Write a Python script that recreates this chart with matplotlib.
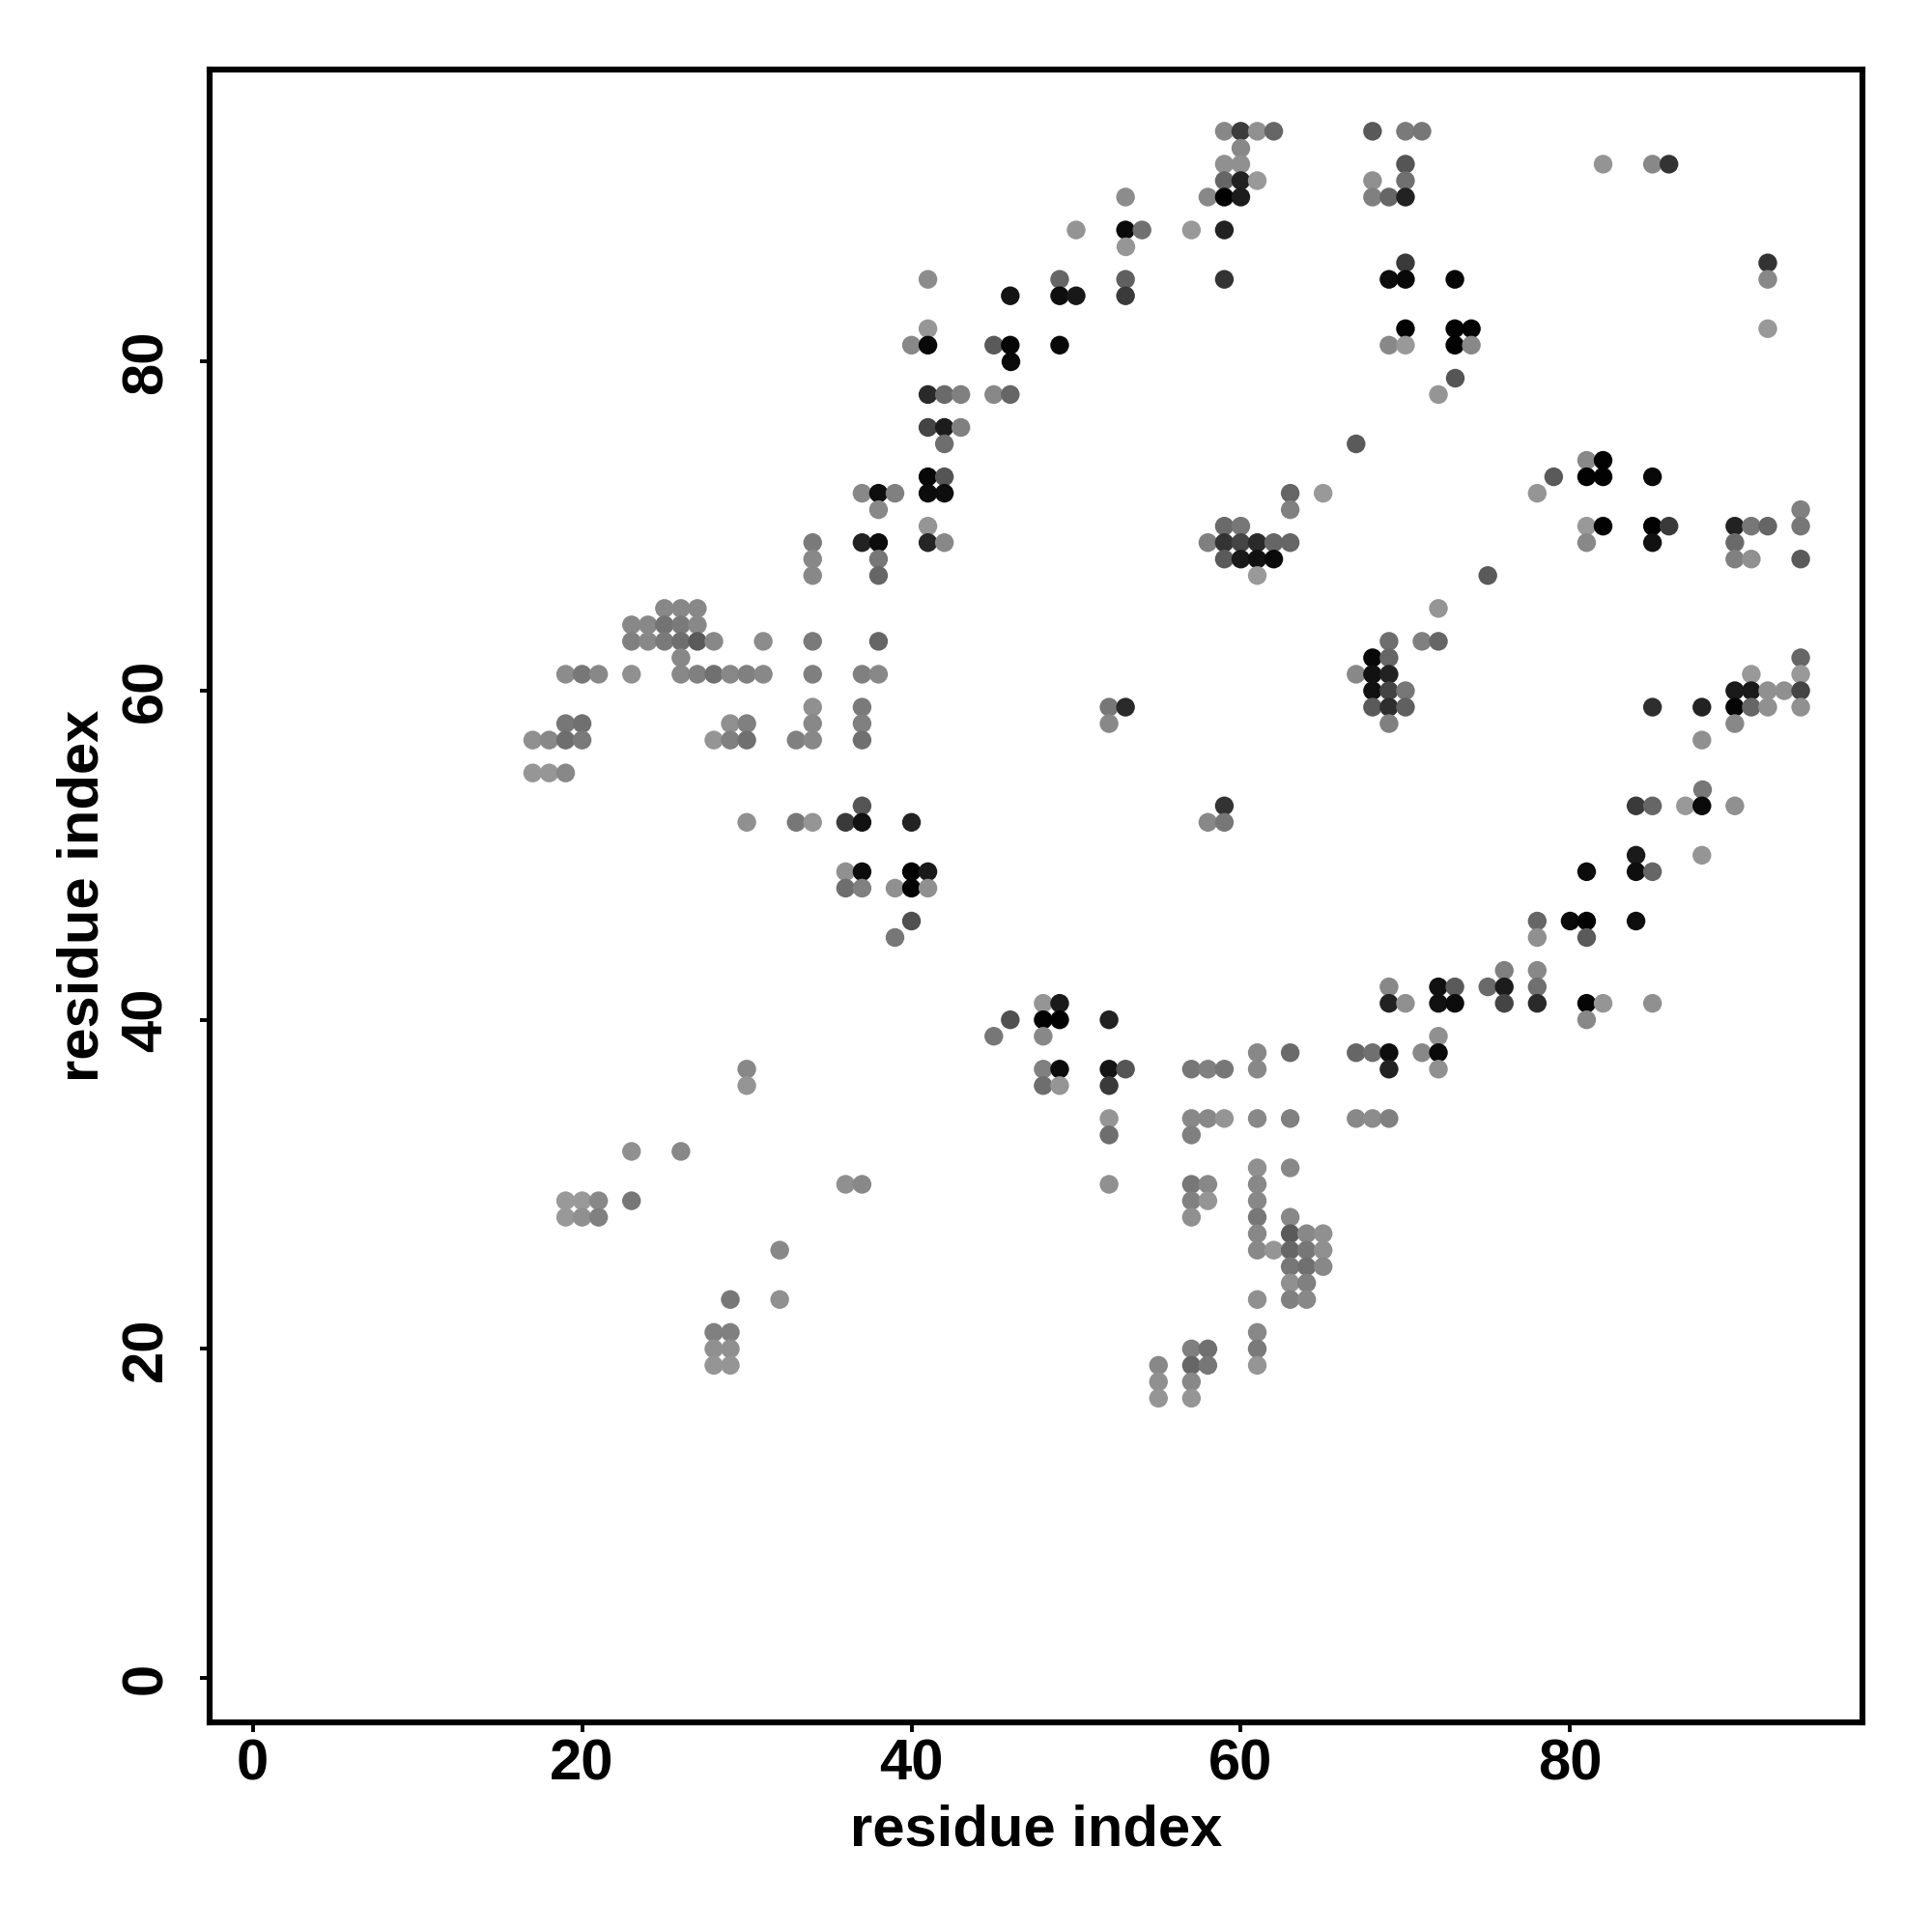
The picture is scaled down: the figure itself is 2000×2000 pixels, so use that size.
import numpy as np
from matplotlib import pyplot as plt

plt.rcParams['font.family'] = ['Liberation Sans', 'DejaVu Sans']

# ---------------------------- Data ----------------------------
# each row: residue index on y, the residues on x, and the gray value of each dot (0-255)
row_y = [94, 93, 92, 91, 90, 88, 87, 86, 85, 84, 82, 81, 80, 79, 78, 76, 75, 74, 73, 72,
         71, 70, 69, 68, 67, 65, 64, 63, 62, 61, 60, 59, 58, 57, 55, 54, 53, 52, 50, 49,
         48, 46, 45, 43, 42, 41, 40, 39, 38, 37, 36, 34, 33, 32, 31, 30, 29, 28, 27, 26,
         25, 24, 23, 21, 20, 19, 18, 17]

row_x = [
    [59, 60, 61, 62, 68, 70, 71],
    [60],
    [59, 60, 70, 82, 85, 86],
    [59, 60, 61, 68, 70],
    [53, 58, 59, 60, 68, 69, 70],
    [50, 53, 54, 57, 59],
    [53],
    [70, 92],
    [41, 49, 53, 59, 69, 70, 73, 92],
    [46, 49, 50, 53],
    [41, 70, 73, 74, 92],
    [40, 41, 45, 46, 49, 69, 70, 73, 74],
    [46],
    [73],
    [41, 42, 43, 45, 46, 72],
    [41, 42, 43],
    [42, 67],
    [81, 82],
    [41, 42, 79, 81, 82, 85],
    [37, 38, 39, 41, 42, 63, 65, 78],
    [38, 63, 94],
    [41, 59, 60, 81, 82, 85, 86, 90, 91, 92, 94],
    [34, 37, 38, 41, 42, 58, 59, 60, 61, 62, 63, 81, 85, 90],
    [34, 38, 59, 60, 61, 62, 90, 91, 94],
    [34, 38, 61, 75],
    [25, 26, 27, 72],
    [23, 24, 25, 26, 27],
    [23, 24, 25, 26, 27, 28, 31, 34, 38, 69, 71, 72],
    [26, 68, 69, 94],
    [19, 20, 21, 23, 26, 27, 28, 29, 30, 31, 34, 37, 38, 67, 68, 69, 91, 94],
    [68, 69, 70, 90, 91, 92, 93, 94],
    [34, 37, 52, 53, 68, 69, 70, 85, 88, 90, 91, 92, 94],
    [19, 20, 29, 30, 34, 37, 52, 69, 90],
    [17, 18, 19, 20, 28, 29, 30, 33, 34, 37, 88],
    [17, 18, 19],
    [88],
    [37, 59, 84, 85, 87, 88, 90],
    [30, 33, 34, 36, 37, 40, 58, 59],
    [84, 88],
    [36, 37, 40, 41, 81, 84, 85],
    [36, 37, 39, 40, 41],
    [40, 78, 80, 81, 84],
    [39, 78, 81],
    [76, 78],
    [69, 72, 73, 75, 76, 78],
    [48, 49, 69, 70, 72, 73, 76, 78, 81, 82, 85],
    [46, 48, 49, 52, 81],
    [45, 48, 72],
    [61, 63, 67, 68, 69, 71, 72],
    [30, 48, 49, 52, 53, 57, 58, 59, 61, 69, 72],
    [30, 48, 49, 52],
    [52, 57, 58, 59, 61, 63, 67, 68, 69],
    [52, 57],
    [23, 26],
    [61, 63],
    [36, 37, 52, 57, 58, 61],
    [19, 20, 21, 23, 57, 58, 61],
    [19, 20, 21, 57, 61, 63],
    [61, 63, 64, 65],
    [32, 61, 62, 63, 64, 65],
    [63, 64, 65],
    [63, 64],
    [29, 32, 61, 63, 64],
    [28, 29, 61],
    [28, 29, 57, 58, 61],
    [28, 29, 55, 57, 58, 61],
    [55, 57],
    [55, 57],
]

row_gray = [
    [0x88, 0x3c, 0x90, 0x66, 0x59, 0x7a, 0x77],
    [0x88],
    [0x90, 0x90, 0x55, 0x94, 0x88, 0x33],
    [0x66, 0x22, 0x99, 0x90, 0x70],
    [0x8c, 0x88, 0x02, 0x1c, 0x80, 0x66, 0x22],
    [0x94, 0x0a, 0x70, 0x99, 0x22],
    [0x96],
    [0x3a, 0x33],
    [0x8c, 0x66, 0x60, 0x33, 0x0c, 0x08, 0x05, 0x88],
    [0x14, 0x0e, 0x18, 0x3a],
    [0x96, 0x02, 0x02, 0x02, 0x99],
    [0x88, 0x08, 0x5a, 0x06, 0x08, 0x88, 0x99, 0x02, 0x88],
    [0x0a],
    [0x55],
    [0x2a, 0x6a, 0x80, 0x88, 0x66, 0x95],
    [0x44, 0x1c, 0x80],
    [0x6e, 0x5a],
    [0x88, 0x02],
    [0x08, 0x55, 0x5a, 0x02, 0x02, 0x08],
    [0x88, 0x0e, 0x80, 0x0c, 0x0e, 0x66, 0x99, 0x95],
    [0x88, 0x80, 0x80],
    [0x95, 0x6a, 0x77, 0x99, 0x02, 0x02, 0x3a, 0x22, 0x77, 0x66, 0x77],
    [0x7a, 0x22, 0x0c, 0x25, 0x88, 0x80, 0x33, 0x44, 0x2a, 0x66, 0x66, 0x88, 0x11, 0x6a],
    [0x88, 0x77, 0x5a, 0x1a, 0x11, 0x0a, 0x80, 0x90, 0x5a],
    [0x88, 0x66, 0x99, 0x5a],
    [0x88, 0x88, 0x88, 0x95],
    [0x88, 0x88, 0x73, 0x7a, 0x88],
    [0x80, 0x88, 0x7a, 0x6e, 0x5a, 0x88, 0x8c, 0x7a, 0x66, 0x6e, 0x80, 0x66],
    [0x88, 0x08, 0x66, 0x66],
    [0x8c, 0x77, 0x88, 0x90, 0x88, 0x80, 0x70, 0x88, 0x80, 0x88, 0x7f, 0x80, 0x88, 0x88, 0x11, 0x22, 0x99, 0x99],
    [0x11, 0x44, 0x77, 0x1a, 0x1a, 0x90, 0x90, 0x44],
    [0x90, 0x7a, 0x77, 0x2a, 0x5a, 0x2e, 0x60, 0x2e, 0x22, 0x05, 0x66, 0x90, 0x90],
    [0x77, 0x70, 0x90, 0x80, 0x88, 0x80, 0x88, 0x80, 0x88],
    [0x90, 0x88, 0x6e, 0x7a, 0x95, 0x80, 0x70, 0x80, 0x88, 0x70, 0x90],
    [0x96, 0x96, 0x88],
    [0x77],
    [0x55, 0x33, 0x3a, 0x66, 0x99, 0x0a, 0x90],
    [0x90, 0x77, 0x95, 0x3a, 0x11, 0x22, 0x88, 0x77],
    [0x1a, 0x95],
    [0x90, 0x0c, 0x02, 0x1a, 0x0c, 0x0e, 0x66],
    [0x6e, 0x80, 0x90, 0x02, 0x90],
    [0x50, 0x66, 0x0a, 0x02, 0x0e],
    [0x77, 0x90, 0x5a],
    [0x80, 0x88],
    [0x88, 0x11, 0x5a, 0x6a, 0x1c, 0x70],
    [0x95, 0x1a, 0x22, 0x90, 0x11, 0x0c, 0x44, 0x2a, 0x05, 0x95, 0x90],
    [0x50, 0x02, 0x02, 0x22, 0x88],
    [0x77, 0x88, 0x90],
    [0x88, 0x6a, 0x66, 0x70, 0x0e, 0x88, 0x0a],
    [0x88, 0x80, 0x0c, 0x15, 0x55, 0x77, 0x80, 0x77, 0x88, 0x22, 0x90],
    [0x95, 0x6e, 0x95, 0x3a],
    [0x95, 0x88, 0x88, 0x95, 0x88, 0x80, 0x88, 0x8c, 0x80],
    [0x6e, 0x80],
    [0x90, 0x88],
    [0x90, 0x88],
    [0x90, 0x88, 0x90, 0x77, 0x88, 0x88],
    [0x99, 0x99, 0x88, 0x77, 0x80, 0x95, 0x88],
    [0x99, 0x90, 0x80, 0x90, 0x77, 0x88],
    [0x88, 0x5a, 0x88, 0x90],
    [0x88, 0x88, 0x95, 0x66, 0x77, 0x90],
    [0x77, 0x70, 0x88],
    [0x90, 0x80],
    [0x77, 0x90, 0x90, 0x80, 0x88],
    [0x80, 0x80, 0x88],
    [0x90, 0x90, 0x80, 0x70, 0x7a],
    [0x95, 0x95, 0x88, 0x66, 0x77, 0x95],
    [0x90, 0x88],
    [0x95, 0x95],
]

ticks = [0, 20, 40, 60, 80]
axis_label = 'residue index'
# ---------------------------------------------------------------------

fig = plt.figure(figsize=(20, 20), dpi=100)
ax = fig.add_axes([217 / 2000, 1 - 1783 / 2000, (1928 - 217) / 2000, (1783 - 72) / 2000])

for y, xs, grays in zip(row_y, row_x, row_gray):
    colors = [(g / 255, g / 255, g / 255) for g in grays]
    ax.scatter(xs, [y] * len(xs), s=195, c=colors, linewidths=0, zorder=3)

ax.set_xlim(-2.62, 97.75)
ax.set_ylim(-2.7, 97.75)
ax.set_xticks(ticks)
ax.set_yticks(ticks)
ax.tick_params(axis='both', length=7, width=2.8, labelsize=43)
ax.tick_params(axis='x', pad=5)
ax.tick_params(axis='y', pad=20)
for lab in ax.get_xticklabels():
    lab.set_fontweight('bold')
for lab in ax.get_yticklabels():
    lab.set_fontweight('bold')
    lab.set_rotation(90)
    lab.set_va('center')
for side in ax.spines.values():
    side.set_linewidth(4.4)

ax.set_xlabel(axis_label, fontsize=43, fontweight='bold', labelpad=9)
ax.set_ylabel(axis_label, fontsize=43, fontweight='bold', labelpad=8)

plt.savefig('out.png', dpi=100)
